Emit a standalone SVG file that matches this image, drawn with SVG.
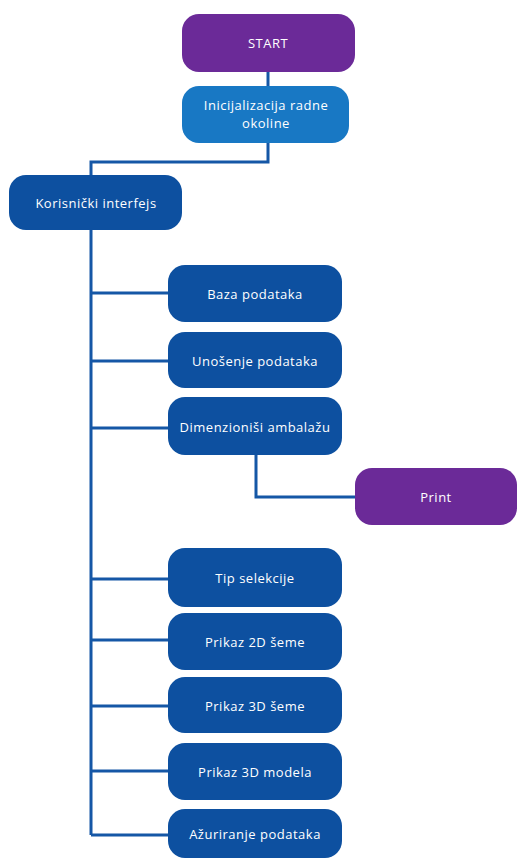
<svg xmlns="http://www.w3.org/2000/svg" width="518" height="859" viewBox="0 0 518 859">
<style>
.b{fill:#0d50a0}
.l{fill:#1878c4}
.p{fill:#6b2a98}
.t{fill:#fff;font-family:"Open Sans","Noto Sans",sans-serif;font-size:13px;letter-spacing:0.5px;text-anchor:middle;dominant-baseline:central}
.c{fill:none;stroke:#1557a6;stroke-width:3}
</style>
<rect width="518" height="859" fill="#fff"/>
<g id="connectors">
<path class="c" d="M268 72V86"/>
<path class="c" d="M268 143V162H91V175"/>
<path class="c" d="M91 230V835"/>
<path class="c" d="M91 293H168M91 361H168M91 428H168M91 579H168M91 640H168M91 706H168M91 771H168M91 835H168"/>
<path class="c" d="M256 455V497H355"/>
</g>
<g id="start"><rect class="p" x="182" y="14" width="173" height="58" rx="17"/><text class="t" x="268" y="43">START</text></g>
<g id="init"><rect class="l" x="182" y="86" width="167" height="57" rx="17"/><text class="t" x="266" y="105">Inicijalizacija radne</text><text class="t" x="266" y="123">okoline</text></g>
<g id="korisnicki"><rect class="b" x="9" y="175" width="173" height="55" rx="17"/><text class="t" x="96" y="203">Korisnički interfejs</text></g>
<g id="baza"><rect class="b" x="168" y="265" width="174" height="57" rx="17"/><text class="t" x="255" y="294">Baza podataka</text></g>
<g id="unosenje"><rect class="b" x="168" y="332" width="174" height="56" rx="17"/><text class="t" x="255" y="361">Unošenje podataka</text></g>
<g id="dimenzionisi"><rect class="b" x="168" y="397" width="174" height="58" rx="17"/><text class="t" x="255" y="427">Dimenzioniši ambalažu</text></g>
<g id="print"><rect class="p" x="355" y="468" width="162" height="57" rx="17"/><text class="t" x="436" y="497">Print</text></g>
<g id="tip"><rect class="b" x="168" y="548" width="174" height="59" rx="17"/><text class="t" x="255" y="578">Tip selekcije</text></g>
<g id="prikaz2d"><rect class="b" x="168" y="613" width="174" height="57" rx="17"/><text class="t" x="255" y="642">Prikaz 2D šeme</text></g>
<g id="prikaz3d"><rect class="b" x="168" y="677" width="174" height="56" rx="17"/><text class="t" x="255" y="706">Prikaz 3D šeme</text></g>
<g id="prikaz3dmodel"><rect class="b" x="168" y="743" width="174" height="57" rx="17"/><text class="t" x="255" y="772">Prikaz 3D modela</text></g>
<g id="azuriranje"><rect class="b" x="168" y="809" width="174" height="49" rx="17"/><text class="t" x="255" y="834">Ažuriranje podataka</text></g>
</svg>
